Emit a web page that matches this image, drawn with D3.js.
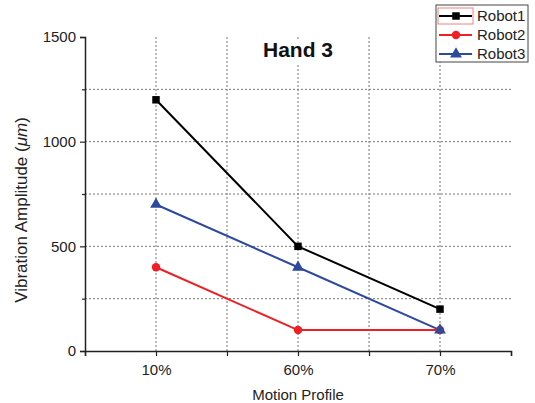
<!DOCTYPE html>
<html>
<head>
<meta charset="utf-8">
<script src="https://cdn.jsdelivr.net/npm/d3@7"></script>
<style>
  body { margin: 0; background: #fff; }
  text { font-family: Arial, "Liberation Sans", sans-serif; fill: #222; }
</style>
</head>
<body>
<div id="chart"></div>
<script>
// Data
var categories = ["10%", "60%", "70%"];
var robot1 = [1200, 500, 200];
var robot2 = [400, 100, 100];
var robot3 = [700, 400, 100];
var yTicks = [0, 500, 1000, 1500];
var yGrid = [250, 500, 750, 1000, 1250];

var series = [
    { name: "Robot1", values: robot1, color: "#000000", shape: d3.symbolSquare, size: 56 },
    { name: "Robot2", values: robot2, color: "#ee1f25", shape: d3.symbolCircle, size: 56 },
    { name: "Robot3", values: robot3, color: "#2c4a9e", shape: d3.symbolTriangle, size: 60 }
];

var svgWidth = 535, svgHeight = 403;
var margin = { top: 37, right: 24, bottom: 52, left: 85 };
var width = svgWidth - margin.left - margin.right;
var height = svgHeight - margin.top - margin.bottom;

var svg = d3.select("#chart").append("svg")
    .attr("width", svgWidth)
    .attr("height", svgHeight);

var chartGroup = svg.append("g")
    .attr("transform", `translate(${margin.left}, ${margin.top})`);

// x is positional: category i sits at i+1, edges at 0.5 and 3.5
var xScale = d3.scaleLinear()
    .domain([0.5, categories.length + 0.5])
    .range([0, width]);

var yScale = d3.scaleLinear()
    .domain([0, 1500])
    .range([height, 0]);

// grid
var xGrid = [1, 1.5, 2, 2.5, 3];
chartGroup.append("g").selectAll("line")
    .data(xGrid).enter().append("line")
    .attr("x1", d => xScale(d)).attr("x2", d => xScale(d))
    .attr("y1", 0).attr("y2", height)
    .attr("stroke", "#777").attr("stroke-width", 1)
    .attr("stroke-dasharray", "2,2");

chartGroup.append("g").selectAll("line")
    .data(yGrid).enter().append("line")
    .attr("x1", 0).attr("x2", width)
    .attr("y1", d => yScale(d)).attr("y2", d => yScale(d))
    .attr("stroke", "#777").attr("stroke-width", 1)
    .attr("stroke-dasharray", "2,2");

// axes
var bottomAxis = d3.axisBottom(xScale)
    .tickValues([0.5, 1, 1.5, 2, 2.5, 3, 3.5])
    .tickSize(5)
    .tickFormat(d => Number.isInteger(d) ? categories[d - 1] : "");

var leftAxis = d3.axisLeft(yScale)
    .tickValues([0, 250, 500, 750, 1000, 1250, 1500])
    .tickSize(5)
    .tickFormat(d => yTicks.indexOf(d) >= 0 ? d : "");

var xAxis = chartGroup.append("g")
    .attr("transform", `translate(0, ${height})`)
    .call(bottomAxis);

var yAxis = chartGroup.append("g").call(leftAxis);

[xAxis, yAxis].forEach(ax => {
    ax.attr("font-family", null).attr("font-size", 15);
    ax.select(".domain").attr("stroke", "#222").attr("stroke-width", 1.5);
    ax.selectAll(".tick line").attr("stroke", "#222").attr("stroke-width", 1.2);
    ax.selectAll(".tick text").attr("fill", "#222");
});
xAxis.selectAll(".tick text").attr("y", 24).attr("dy", null);
yAxis.selectAll(".tick text").attr("x", -9);
yAxis.selectAll(".tick").filter(d => yTicks.indexOf(d) < 0).select("line").attr("x2", -3);

// lines and markers
var line = d3.line()
    .x((d, i) => xScale(i + 1))
    .y(d => yScale(d));

series.forEach(s => {
    chartGroup.append("path")
        .datum(s.values)
        .attr("fill", "none")
        .attr("stroke", s.color)
        .attr("stroke-width", 2)
        .attr("d", line);
});

series.forEach(s => {
    chartGroup.append("g").selectAll("path")
        .data(s.values).enter().append("path")
        .attr("d", d3.symbol().type(s.shape).size(s.size))
        .attr("transform", (d, i) => `translate(${xScale(i + 1)}, ${yScale(d)})`)
        .attr("fill", s.color);
});

// title with white backing
var titleX = xScale(2);
chartGroup.append("rect")
    .attr("x", titleX - 39).attr("y", 2)
    .attr("width", 78).attr("height", 26)
    .attr("fill", "#fff");
chartGroup.append("text")
    .attr("x", titleX).attr("y", 20)
    .attr("text-anchor", "middle")
    .attr("font-size", 21).attr("font-weight", "bold")
    .style("fill", "#111")
    .text("Hand 3");

// axis titles
svg.append("text")
    .attr("x", margin.left + width / 2)
    .attr("y", 400)
    .attr("text-anchor", "middle")
    .attr("font-size", 15)
    .text("Motion Profile");

var yTitle = svg.append("text")
    .attr("transform", "translate(27, 210) rotate(-90)")
    .attr("text-anchor", "middle")
    .attr("font-size", 17);
yTitle.append("tspan").text("Vibration Amplitude (");
yTitle.append("tspan").style("font-style", "italic").text("\u03bcm");
yTitle.append("tspan").text(")");

// legend
var legend = svg.append("g").attr("transform", "translate(436, 5)");
legend.append("rect")
    .attr("width", 92).attr("height", 57)
    .attr("fill", "#fff").attr("stroke", "#444").attr("stroke-width", 1);
legend.append("rect")
    .attr("x", 2).attr("y", 3).attr("width", 35).attr("height", 16)
    .attr("fill", "none").attr("stroke", "#f08080").attr("stroke-width", 1);

series.forEach((s, i) => {
    var ly = 11 + i * 19;
    legend.append("line")
        .attr("x1", 3).attr("x2", 36)
        .attr("y1", ly).attr("y2", ly)
        .attr("stroke", s.color).attr("stroke-width", 2);
    legend.append("path")
        .attr("d", d3.symbol().type(s.shape).size(s.size))
        .attr("transform", `translate(20, ${ly})`)
        .attr("fill", s.color);
    legend.append("text")
        .attr("x", 41).attr("y", ly + 5)
        .attr("font-size", 15)
        .text(s.name);
});
</script>
</body>
</html>
